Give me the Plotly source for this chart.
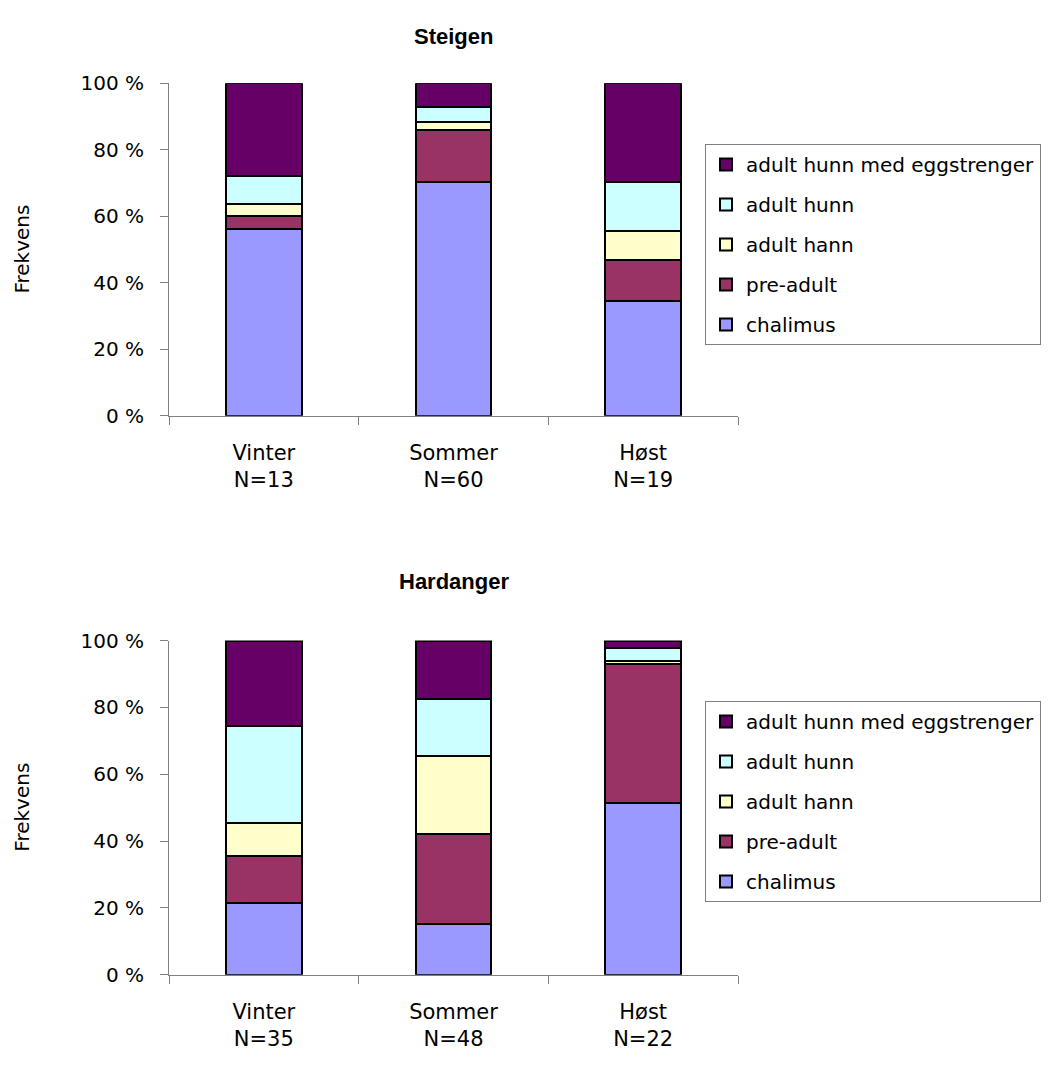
import plotly.graph_objects as go

categories_steigen = ["Vinter<br>N=13", "Sommer<br>N=60", "Høst<br>N=19"]
categories_hardanger = ["Vinter<br>N=35", "Sommer<br>N=48", "Høst<br>N=22"]

series_names = ["chalimus", "pre-adult", "adult hann", "adult hunn", "adult hunn med eggstrenger"]
series_colors = ["#9999FF", "#993366", "#FFFFCC", "#CCFFFF", "#660066"]

# percentages per stage (segment heights), Steigen
steigen_chalimus = [56.1, 70.2, 34.4]
steigen_preadult = [4.1, 15.7, 12.4]
steigen_hann = [3.6, 2.5, 8.8]
steigen_hunn = [8.2, 4.6, 14.6]
steigen_egg = [28.0, 7.0, 29.8]

# Hardanger
hardanger_chalimus = [21.5, 15.1, 51.4]
hardanger_preadult = [14.1, 27.0, 41.5]
hardanger_hann = [9.9, 23.5, 1.1]
hardanger_hunn = [28.8, 17.0, 3.7]
hardanger_egg = [25.7, 17.4, 2.3]

steigen = [steigen_chalimus, steigen_preadult, steigen_hann, steigen_hunn, steigen_egg]
hardanger = [hardanger_chalimus, hardanger_preadult, hardanger_hann, hardanger_hunn, hardanger_egg]

W, H = 1058, 1065
FONT = "DejaVu Sans"
TFONT = "Liberation Sans"

def py(px):
    return (H - px) / H

fig = go.Figure()

n = len(series_names)
for i, name in enumerate(series_names):
    fig.add_trace(go.Bar(
        x=categories_steigen, y=steigen[i], name=name,
        marker=dict(color=series_colors[i], line=dict(color="black", width=2)),
        width=0.4, xaxis="x", yaxis="y", legend="legend",
        legendgroup="s" + str(i), legendrank=n - i,
    ))
for i, name in enumerate(series_names):
    fig.add_trace(go.Bar(
        x=categories_hardanger, y=hardanger[i], name=name,
        marker=dict(color=series_colors[i], line=dict(color="black", width=2)),
        width=0.4, xaxis="x2", yaxis="y2", legend="legend2",
        legendgroup="h" + str(i), legendrank=n - i,
    ))

x0, x1 = 169 / W, 738 / W

xcommon = dict(
    showline=True, linecolor="#808080", linewidth=1,
    ticks="outside", ticklen=8, tickcolor="#808080", tickson="boundaries",
    tickfont=dict(family=FONT, size=21, color="black"),
    range=[-0.5, 2.5], showgrid=False, zeroline=False,
    ticklabelstandoff=18,
)
ycommon = dict(
    showline=True, linecolor="#808080", linewidth=1,
    ticks="outside", ticklen=8, tickcolor="#808080",
    tickfont=dict(family=FONT, size=20, color="black"),
    range=[0, 100], dtick=20, tick0=0, ticksuffix=" %",
    showgrid=False, zeroline=False, ticklabelstandoff=12,
)

legcommon = dict(
    font=dict(family=FONT, size=20, color="black"),
    bordercolor="#808080", borderwidth=1, bgcolor="white",
    traceorder="grouped", tracegroupgap=11,
    xanchor="left", yanchor="top", itemclick=False,
)

fig.update_layout(
    width=W, height=H,
    margin=dict(l=0, r=0, t=0, b=0),
    paper_bgcolor="white", plot_bgcolor="white",
    barmode="stack",
    xaxis=dict(domain=[x0, x1], anchor="y", **xcommon),
    yaxis=dict(domain=[py(413), py(73)], anchor="x", **ycommon),
    xaxis2=dict(domain=[x0, x1], anchor="y2", **xcommon),
    yaxis2=dict(domain=[py(985), py(643)], anchor="x2", **ycommon),
    legend=dict(x=705 / W, y=py(135), **legcommon),
    legend2=dict(x=705 / W, y=py(705), **legcommon),
    font=dict(family=FONT, color="black"),
    annotations=[
        dict(text="<b>Steigen</b>", x=(169 + 738) / 2 / W, y=py(25), xref="paper", yref="paper",
             showarrow=False, font=dict(family=TFONT, size=22, color="black"), xanchor="center", yanchor="middle"),
        dict(text="<b>Hardanger</b>", x=(169 + 738) / 2 / W, y=py(583), xref="paper", yref="paper",
             showarrow=False, font=dict(family=TFONT, size=22, color="black"), xanchor="center", yanchor="middle"),
        dict(text="Frekvens", x=22 / W, y=py(243), xref="paper", yref="paper", textangle=-90,
             showarrow=False, font=dict(family=FONT, size=20, color="black"), xanchor="center", yanchor="middle"),
        dict(text="Frekvens", x=22 / W, y=py(814), xref="paper", yref="paper", textangle=-90,
             showarrow=False, font=dict(family=FONT, size=20, color="black"), xanchor="center", yanchor="middle"),
    ],
)

fig.write_html("out.html")
